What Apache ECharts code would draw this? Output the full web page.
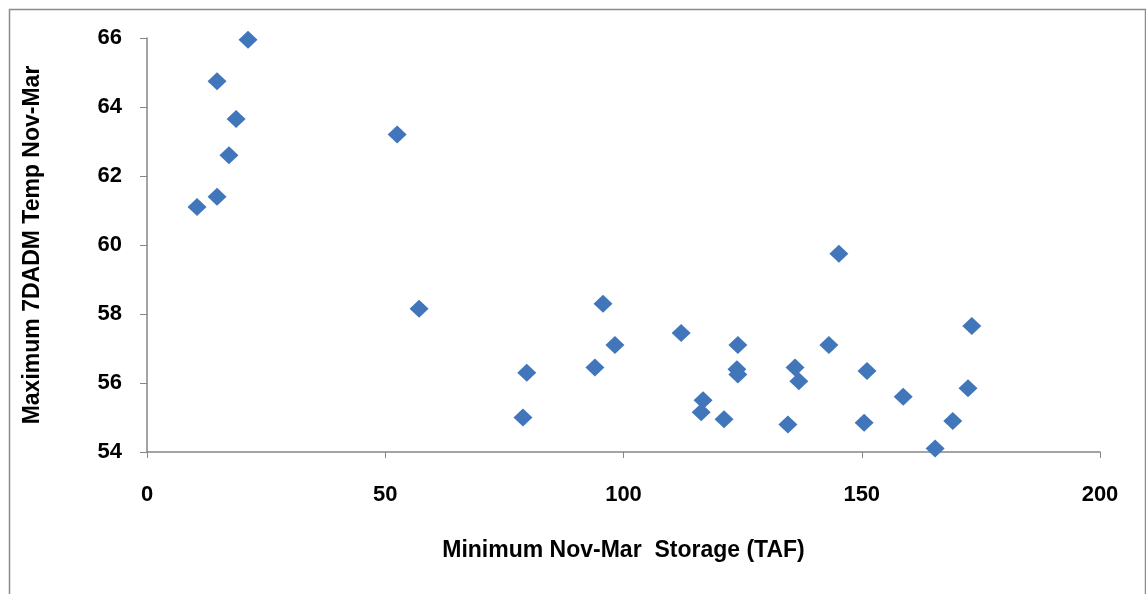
<!DOCTYPE html>
<html>
<head>
<meta charset="utf-8">
<script src="https://cdn.jsdelivr.net/npm/echarts@6/dist/echarts.min.js"></script>
<style>html,body{margin:0;padding:0;background:#fff;}#c{width:1146px;height:594px;}</style>
</head>
<body>
<div id="c"></div>
<script>
const storageTAF = [10.5, 14.7, 14.7, 17.2, 18.7, 21.2, 52.5, 57.1, 78.9, 79.7, 94.0, 95.7, 98.2, 112.1, 116.7, 116.3, 121.1, 123.8, 124.0, 124.0, 134.5, 136.0, 136.8, 143.1, 145.2, 150.5, 151.1, 158.7, 165.4, 169.1, 172.3, 173.1];
const maxTemp    = [61.1, 61.4, 64.75, 62.6, 63.65, 65.95, 63.2, 58.15, 55.0, 56.3, 56.45, 58.3, 57.1, 57.45, 55.5, 55.15, 54.95, 56.4, 56.25, 57.1, 54.8, 56.45, 56.05, 57.1, 59.75, 54.85, 56.35, 55.6, 54.1, 54.9, 55.85, 57.65];
const xTicks = [0, 50, 100, 150, 200];
const yTicks = [54, 56, 58, 60, 62, 64, 66];
const xTitle = 'Minimum Nov-Mar  Storage (TAF)';
const yTitle = 'Maximum 7DADM Temp Nov-Mar';

const font = "'Liberation Sans Narrow', 'Arial Narrow', 'Liberation Sans', sans-serif";
const chart = echarts.init(document.getElementById('c'), null, {renderer: 'canvas'});
chart.setOption({
  animation: false,
  backgroundColor: '#fff',
  graphic: [{
    type: 'rect', left: 7, top: 7, silent: true,
    shape: {width: 1136, height: 600},
    style: {fill: 'none', stroke: '#8c8c8c', lineWidth: 1.5}
  }],
  grid: {left: 147, right: 46, top: 38, bottom: 142},
  xAxis: {
    type: 'value', min: xTicks[0], max: xTicks[xTicks.length - 1], interval: 50,
    name: xTitle, nameLocation: 'middle', nameGap: 87,
    nameTextStyle: {fontFamily: font, fontWeight: 'bold', fontSize: 23, color: '#000'},
    axisLine: {show: true, lineStyle: {color: '#868686', width: 1.5}},
    axisTick: {show: true, length: 6, lineStyle: {color: '#868686'}},
    axisLabel: {fontFamily: font, fontWeight: 'bold', fontSize: 22, color: '#000', margin: 32},
    splitLine: {show: false}
  },
  yAxis: {
    type: 'value', min: yTicks[0], max: yTicks[yTicks.length - 1], interval: 2,
    name: yTitle, nameLocation: 'middle', nameGap: 103, nameRotate: 90,
    nameTextStyle: {fontFamily: font, fontWeight: 'bold', fontSize: 23, color: '#000'},
    axisLine: {show: true, lineStyle: {color: '#868686', width: 1.5}},
    axisTick: {show: true, length: 7, lineStyle: {color: '#868686'}},
    axisLabel: {fontFamily: font, fontWeight: 'bold', fontSize: 22, color: '#000', margin: 25},
    splitLine: {show: false}
  },
  series: [{
    type: 'scatter',
    symbol: 'diamond',
    symbolSize: [19, 18],
    itemStyle: {color: '#4176ba', opacity: 1},
    data: storageTAF.map((x, i) => [x, maxTemp[i]])
  }]
});
</script>
</body>
</html>
